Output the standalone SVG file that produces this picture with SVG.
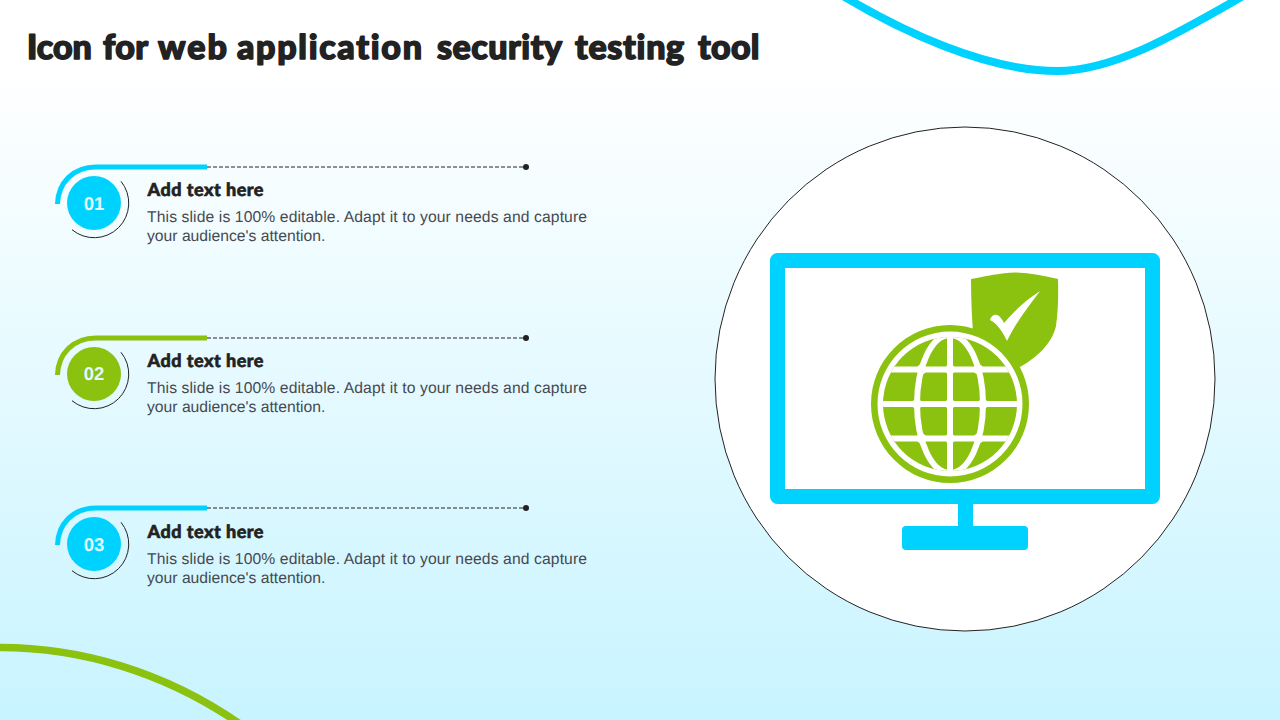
<svg xmlns="http://www.w3.org/2000/svg" width="1280" height="720" viewBox="0 0 1280 720">
<style>
text{font-variant-ligatures:none;text-rendering:geometricPrecision}
.title{font-family:Lato,"Liberation Sans",sans-serif;font-weight:900;font-size:34px;fill:#222222;stroke:#222222;stroke-width:1.500px;stroke-linejoin:round}
.h{font-family:Lato,"Liberation Sans",sans-serif;font-weight:900;font-size:18px;fill:#222222;stroke:#222222;stroke-width:.6px}
.b{font-family:"Liberation Sans",Arial,sans-serif;font-size:15.700px;fill:#47494f}
.n{font-family:"Liberation Sans",Arial,sans-serif;font-size:18.500px;font-weight:700;fill:#e3f9ff;text-anchor:middle}
.thin{fill:none;stroke:#222222;stroke-width:1}
.dash{fill:none;stroke:#222222;stroke-width:1;stroke-dasharray:4 2}
.lead{fill:none;stroke-width:5}
.c{stroke:#00d2ff}.g{stroke:#8bc10f}
.grid{fill:none;stroke:#ffffff;stroke-width:6}
</style>
<defs>
<linearGradient id="bg" x1="0" y1="0" x2="0" y2="1"><stop offset="0" stop-color="#ffffff"/><stop offset="0.1" stop-color="#ffffff"/><stop offset="1" stop-color="#c8f4ff"/></linearGradient>
<clipPath id="gc"><circle cx="950" cy="404" r="67"/></clipPath>
<g id="item">
<path class="thin" d="M121 181.300A34.600 34.600 0 0 1 72 229.700"/>
<path class="dash" d="M207 167H525"/>
<circle cx="526" cy="167" r="3" fill="#222222"/>
</g>
</defs>
<rect width="1280" height="720" fill="url(#bg)"/>
<path d="M843 -4C900 30 985 71 1057 71C1115 71 1180 32 1243 -4" fill="none" stroke="#00d2ff" stroke-width="8"/>
<path d="M-2 647.500C80 647 165 672 240 724" fill="none" stroke="#8bc10f" stroke-width="7.500"/>
<text class="title" y="59"><tspan x="27">Icon</tspan> <tspan x="103" letter-spacing=".3">for</tspan> <tspan x="158" letter-spacing="2">web</tspan> <tspan x="237" letter-spacing="1.700">application</tspan> <tspan x="437" letter-spacing=".5">security</tspan> <tspan x="575" letter-spacing=".7">testing</tspan> <tspan x="698" letter-spacing=".3">tool</tspan></text>
<g id="node-01">
<use href="#item"/>
<path class="lead c" d="M57.500 204C58 183 73 167 96 167H207"/>
<circle cx="94" cy="203" r="27" fill="#00d2ff"/>
<text class="n" x="94" y="209.500">01</text>
<text class="h" x="147.500" y="196" textLength="116">Add text here</text>
<text class="b" x="147" y="222" textLength="440">This slide is 100% editable. Adapt it to your needs and capture</text>
<text class="b" x="147" y="241">your audience's attention.</text>
</g>
<g id="node-02">
<use href="#item" y="171"/>
<path class="lead g" d="M57.500 375C58 354 73 338 96 338H207"/>
<circle cx="94" cy="374" r="27" fill="#8bc10f"/>
<text class="n" x="94" y="380">02</text>
<text class="h" x="147.500" y="367" textLength="116">Add text here</text>
<text class="b" x="147" y="393" textLength="440">This slide is 100% editable. Adapt it to your needs and capture</text>
<text class="b" x="147" y="412">your audience's attention.</text>
</g>
<g id="node-03">
<use href="#item" y="341"/>
<path class="lead c" d="M57.500 545C58 524 73 508 96 508H207"/>
<circle cx="94" cy="544" r="27" fill="#00d2ff"/>
<text class="n" x="94" y="550.500">03</text>
<text class="h" x="147.500" y="538" textLength="116">Add text here</text>
<text class="b" x="147" y="564" textLength="440">This slide is 100% editable. Adapt it to your needs and capture</text>
<text class="b" x="147" y="583">your audience's attention.</text>
</g>
<g id="icon">
<ellipse cx="965" cy="379" rx="250" ry="252" fill="#ffffff" stroke="#222222" stroke-width="1"/>
<rect x="777.500" y="260.500" width="375" height="236" fill="#ffffff" stroke="#00d2ff" stroke-width="15" stroke-linejoin="round"/>
<rect x="958" y="503" width="15" height="24" fill="#00d2ff"/>
<rect x="902" y="526" width="126" height="24" rx="4" fill="#00d2ff"/>
<path d="M971 279C987 276 1001 273 1015 272.500C1030 273 1044 276 1058 279C1058.500 297 1058 312 1056 326C1052 344 1036 358 1020 367L974 345C972 322 971 300 971 279Z" fill="#8bc10f"/>
<path d="M990 320C991 316 994 314 997 315C1000 316 1002 319 1004 323C1014 311 1026 300 1040 291C1029 306 1016 322 1007 341C1004 334 997 323 990 320Z" fill="#ffffff"/>
<circle cx="950" cy="404" r="79" fill="#8bc10f"/>
<circle cx="950" cy="404" r="72.500" fill="#ffffff"/>
<circle cx="950" cy="404" r="67" fill="#8bc10f"/>
<g clip-path="url(#gc)">
<ellipse class="grid" cx="950" cy="404" rx="33" ry="69"/>
<path class="grid" d="M950 330V478M880 369.500H1020M875 404H1025M880 438.500H1020"/>
<g fill="#ffffff"><circle cx="950" cy="369.500" r="5"/><circle cx="950" cy="404" r="5"/><circle cx="950" cy="438.500" r="5"/><circle cx="917" cy="404" r="5"/><circle cx="983" cy="404" r="5"/><circle cx="921.500" cy="369.500" r="5"/><circle cx="978.500" cy="369.500" r="5"/><circle cx="921.500" cy="438.500" r="5"/><circle cx="978.500" cy="438.500" r="5"/></g>
</g>
</g>
</svg>
